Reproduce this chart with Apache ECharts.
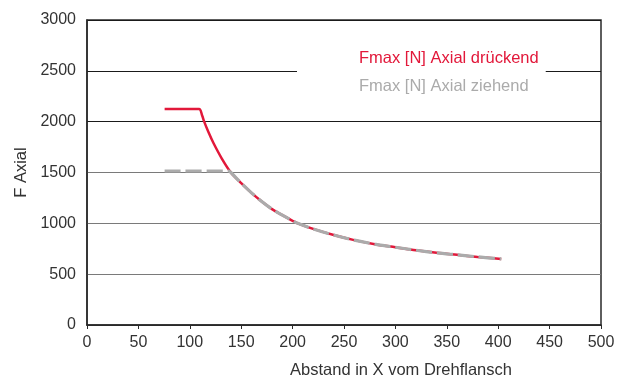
<!DOCTYPE html>
<html>
<head>
<meta charset="utf-8">
<script src="https://cdn.jsdelivr.net/npm/echarts@6/dist/echarts.min.js"></script>
<style>html,body{margin:0;padding:0;background:#fff}#c{width:622px;height:388px}</style>
</head>
<body>
<div id="c"></div>
<script>
// Data
const xPress = [75.5, 109, 112, 114, 118, 123, 131, 140, 150, 160, 170, 180, 190, 200, 205, 220, 240, 260, 280, 300, 320, 340, 360, 380, 403];
const yPress = [2125, 2125, 2060, 2000, 1900, 1790, 1640, 1500, 1395, 1300, 1215, 1140, 1080, 1025, 1000, 945, 885, 835, 795, 765, 735, 710, 690, 670, 650];
const xPull = [75.5, 138, 140, 150, 160, 170, 180, 190, 200, 205, 220, 240, 260, 280, 300, 320, 340, 360, 380, 403];
const yPull = [1515, 1515, 1500, 1395, 1300, 1215, 1140, 1080, 1025, 1000, 945, 885, 835, 795, 765, 735, 710, 690, 670, 650];
const xTicks = [0, 50, 100, 150, 200, 250, 300, 350, 400, 450, 500];
const yTicks = [0, 500, 1000, 1500, 2000, 2500, 3000];
const seriesNames = ['Fmax [N] Axial drückend', 'Fmax [N] Axial ziehend'];
const xTitle = 'Abstand in X vom Drehflansch';
const yTitle = 'F Axial';

const zip = (xs, ys) => xs.map((x, i) => [x, ys[i]]);
const FONT = 'Liberation Sans, Arial, sans-serif';
const RED = '#e2183a';
const GREY = '#ababab';

const chart = echarts.init(document.getElementById('c'), null, {renderer: 'canvas'});
chart.setOption({
  animation: false,
  backgroundColor: '#fff',
  grid: {left: 87, right: 21, top: 20, bottom: 63, show: true, borderColor: '#2a2a2a', borderWidth: 1.5, backgroundColor: 'transparent'},
  legend: {
    orient: 'vertical', left: 297, top: 45,
    padding: [5, 7, 5, 5], itemGap: 11, itemWidth: 51, itemHeight: 14,
    backgroundColor: '#fff',
    itemStyle: {opacity: 0}, lineStyle: {opacity: 0},
    data: [
      {name: seriesNames[0], textStyle: {color: RED}},
      {name: seriesNames[1], textStyle: {color: GREY}}
    ],
    textStyle: {fontFamily: FONT, fontSize: 16.5}
  },
  xAxis: {
    type: 'value', min: xTicks[0], max: xTicks[xTicks.length - 1], interval: 50,
    name: xTitle, nameLocation: 'middle', nameGap: 37,
    nameTextStyle: {fontFamily: FONT, fontSize: 16.5, color: '#333', padding: [0, 0, 0, 114]},
    axisLine: {lineStyle: {color: '#2a2a2a', width: 1.5}},
    axisTick: {show: true, length: 4, lineStyle: {color: '#2a2a2a'}},
    axisLabel: {fontFamily: FONT, fontSize: 16, color: '#333', margin: 10, formatter: v => String(v)},
    splitLine: {show: false}
  },
  yAxis: {
    type: 'value', min: yTicks[0], max: yTicks[yTicks.length - 1], interval: 500,
    name: yTitle, nameLocation: 'middle', nameGap: 38,
    nameTextStyle: {fontFamily: FONT, fontSize: 16.5, color: '#333'},
    axisLine: {show: true, lineStyle: {color: '#2a2a2a', width: 1.5}},
    axisTick: {show: false},
    axisLabel: {fontFamily: FONT, fontSize: 16, color: '#333', margin: 11, formatter: v => String(v)},
    splitLine: {show: true, lineStyle: {color: ['#2a2a2a', '#7a7a7a', '#7a7a7a', '#7a7a7a', '#1a1a1a', '#1a1a1a', '#1a1a1a'], width: 1.2}}
  },
  series: [
    {
      name: seriesNames[0], type: 'line', data: zip(xPress, yPress),
      smooth: 0.3, showSymbol: false, symbol: 'none',
      lineStyle: {color: RED, width: 2.5}, itemStyle: {color: RED}, z: 2
    },
    {
      name: seriesNames[1], type: 'line', data: zip(xPull, yPull),
      smooth: 0.3, showSymbol: false, symbol: 'none',
      lineStyle: {color: GREY, width: 3.2, type: [16, 5]}, itemStyle: {color: GREY}, z: 3
    }
  ]
});
</script>
</body>
</html>
